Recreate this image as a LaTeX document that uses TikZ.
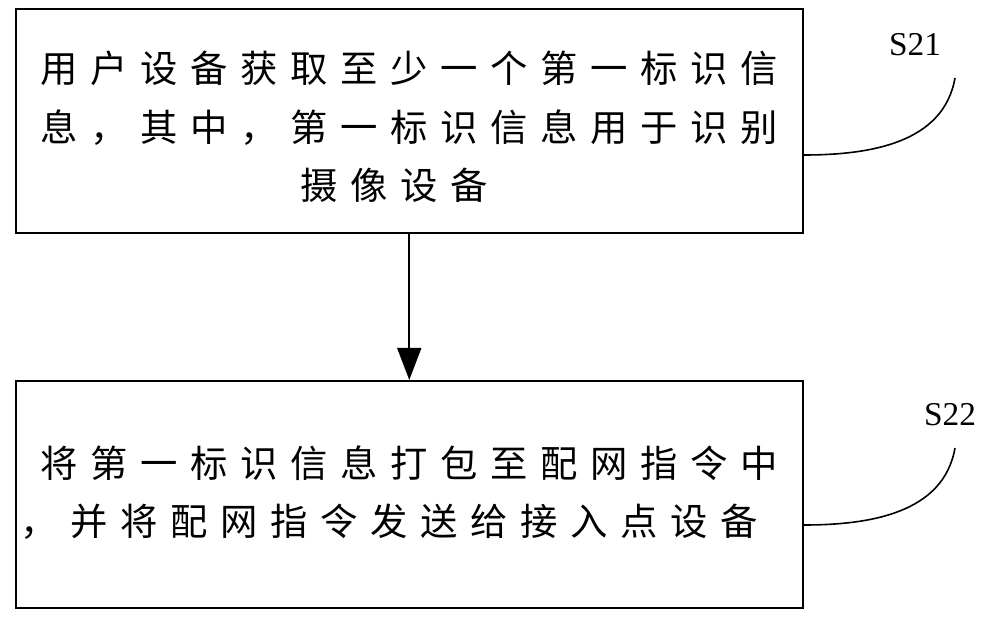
\documentclass[tikz,border=0pt]{standalone}
\usepackage{fontspec}
\setmainfont{Liberation Serif}
\newfontfamily\cjk[LetterSpace=34]{Noto Sans CJK SC}
\usetikzlibrary{arrows.meta}

\begin{document}
\begin{tikzpicture}[x = 0.75pt, y = -0.75pt]
			\useasboundingbox (0,0) rectangle (1000,620);
			\tikzset{
				stepbox/.style = {draw, line width = 1.4pt, minimum width = 590pt, anchor = north west},
				line/.style = {anchor = west, inner sep = 0pt, font = \cjk\fontsize{28}{32}\selectfont},
				tag/.style = {font = \fontsize{25}{30}\selectfont}
			}

			\node [stepbox, minimum height = 168pt] (S21box) at (15,8) {};
			\node [stepbox, minimum height = 170pt] (S22box) at (15,380) {};

			\node [line] (l1) at (40,68) {用户设备获取至少一个第一标识信};
			\node [line] (l2) at (40,128) {息，其中，第一标识信息用于识别};
			\node [line] (l3) at (300,185) {摄像设备};
			\node [line] (l4) at (40,463) {将第一标识信息打包至配网指令中};
			\node [line] (l5) at (20,522) {，并将配网指令发送给接入点设备};

			\draw [line width = 1.2pt, -{Triangle[length = 24pt, width = 18pt]}] (S21box.south) -- (S22box.north);

			\node [tag] (t1) at (915,45) {S21};
			\node [tag] (t2) at (950,415) {S22};
			\draw [line width = 1.2pt] (S21box.east |- 0,155) to [out = 0, in = 260] (955,78);
			\draw [line width = 1.2pt] (S22box.east |- 0,525) to [out = 0, in = 260] (955,448);
		\end{tikzpicture}
\end{document}
